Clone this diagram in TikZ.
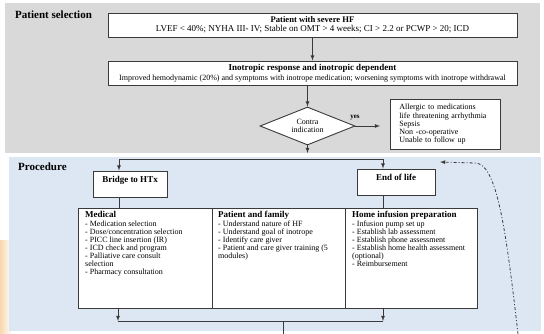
\documentclass[tikz,border=0pt]{standalone}
\usepackage{fontspec}
\setmainfont{Liberation Serif}
\usepackage{tikz}
\usetikzlibrary{shapes.geometric}
\definecolor{PanelGray}{HTML}{D9D9D9}
\definecolor{PanelBlue}{HTML}{DDE7F3}
\definecolor{BoxLine}{HTML}{3A3A3A}
\definecolor{Glow}{HTML}{F9D7AE}

\begin{document}
\begin{tikzpicture}[
  x=1pt, y=-1pt, >=latex,
  box/.style={rectangle, draw=BoxLine, line width=0.9pt, fill=white, align=center, inner sep=0pt},
  cell/.style={rectangle, draw=BoxLine, line width=0.9pt, fill=white, anchor=north west, minimum height=100pt, inner sep=0pt},
  celltext/.style={anchor=north west, align=left, inner sep=0pt, font=\fontsize{8}{8}\selectfont},
  stage/.style={box, font=\fontsize{9}{9}\selectfont\bfseries, text height=9pt, text depth=11pt, inner ysep=3pt},
  heading/.style={anchor=north west, inner sep=0pt, font=\fontsize{11}{11}\selectfont\bfseries},
  arrow/.style={->, line width=0.8pt, draw=BoxLine},
  link/.style={line width=0.8pt, draw=BoxLine}
]
\useasboundingbox (0,0) rectangle (544,334);

% panels
\fill[white] (0,0) rectangle (544,334);
\shade[left color=Glow, right color=white] (0,240) rectangle (12,334);
\fill[PanelGray] (5,3) rectangle (540,153);
\fill[PanelBlue] (9,157) rectangle (541,331);

% patient selection
\node[heading] (selhdr) at (15,11) {Patient selection};
\node[box, minimum width=409pt, minimum height=24pt, font=\fontsize{9}{9}\selectfont] (severe) at (312.5,25)
  {{\fontsize{8.6}{9}\selectfont\bfseries Patient with severe HF}\\LVEF < 40\%; NYHA III- IV; Stable on OMT > 4 weeks; CI > 2.2 or PCWP > 20; ICD};
\node[box, minimum width=409pt, minimum height=24pt, font=\fontsize{8}{10}\selectfont] (inotrope) at (312.5,73)
  {{\fontsize{9}{9}\selectfont\bfseries Inotropic response and inotropic dependent}\\Improved hemodynamic (20\%) and symptoms with inotrope medication; worsening symptoms with inotrope withdrawal};
\node[diamond, aspect=2.5, draw=BoxLine, line width=0.9pt, fill=white, minimum width=95pt, minimum height=38pt, inner sep=0pt, align=center, font=\fontsize{8}{8}\selectfont] (contra) at (307.5,126) {Contra\\indication};
\node[box, anchor=north west, minimum width=110pt, minimum height=50pt, text width=92pt, inner xsep=9pt, align=left, font=\fontsize{8}{8.3}\selectfont] (contralist) at (390,99)
  {Allergic to medications\\life threatening arrhythmia\\Sepsis\\Non -co-operative\\Unable to follow up};
\node[font=\fontsize{7}{7}\selectfont\bfseries, inner sep=0pt] (yes) at (355,118) {yes};
\coordinate (yesend) at (380,126);
\coordinate (contraout) at (307.5,153);

\draw[arrow] (severe) -- (severe.south |- inotrope.north) coordinate (a1);
\draw[arrow] (inotrope.south -| contra) -- (contra);
\draw[arrow] (contra.east) -- (yesend);
\draw[arrow] (contra.south) -- (contraout);

% procedure
\node[heading] (prochdr) at (18,163) {Procedure};
\node[stage, minimum width=74pt] (bridge) at (130,184) {Bridge to HTx};
\node[stage, minimum width=78pt] (endlife) at (396,182) {End of life};
\coordinate (splitL) at (119,159);
\coordinate (splitR) at (383,159);
\draw[link] (splitL) -- (splitR);
\draw[arrow] (splitL) -- (bridge.north -| splitL);
\draw[arrow] (splitR) -- (endlife.north -| splitR);

\node[cell, minimum width=134pt] (medcell) at (78,208) {};
\node[cell, minimum width=133pt] (famcell) at (212,208) {};
\node[cell, minimum width=132pt] (infcell) at (345,208) {};
\draw[link] (bridge.south -| splitL) -- (medcell.north -| splitL);
\draw[link] (endlife.south -| splitR) -- (infcell.north -| splitR);

\node[celltext] (medical) at (85,211)
  {{\fontsize{9}{9}\selectfont\bfseries Medical}\\[1pt]- Medication selection\\- Dose/concentration selection\\- PICC line insertion (IR)\\- ICD check and program\\- Palliative care consult\\selection\\- Pharmacy consultation};
\node[celltext] (family) at (218,211)
  {{\fontsize{9}{9}\selectfont\bfseries Patient and family}\\[1pt]- Understand nature of HF\\- Understand goal of inotrope\\- Identify care giver\\- Patient and care giver training (5\\modules)};
\node[celltext] (infusion) at (352,211)
  {{\fontsize{9}{9}\selectfont\bfseries Home infusion preparation}\\[1pt]- Infusion pump set up\\- Establish lab assessment\\- Establish phone assessment\\- Establish home health assessment\\(optional)\\- Reimbursement};

\coordinate (joinL) at (118,321);
\coordinate (joinR) at (383,321);
\coordinate (joinM) at (283,321);
\coordinate (outlet) at (283,334);
\draw[link] (joinL) -- (joinR);
\draw[arrow] (medcell.south -| joinL) -- (joinL);
\draw[arrow] (infcell.south -| joinR) -- (joinR);
\draw[link] (joinM) -- (outlet);

% return loop
\coordinate (loopfoot) at (518,334);
\coordinate (looptip) at (440,162);
\draw[arrow, dash pattern=on 3pt off 2pt on 1pt off 2pt] (loopfoot) .. controls (506,230) and (497,163) .. (475,163) -- (looptip);
\end{tikzpicture}
\end{document}
